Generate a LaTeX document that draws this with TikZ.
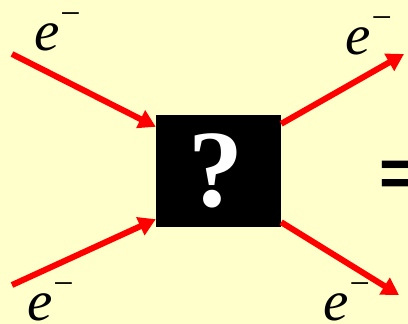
\documentclass[tikz,border=0pt]{standalone}
\usepackage{fontspec}
\setmainfont{Liberation Serif}
\setsansfont{Liberation Sans}
\usetikzlibrary{arrows.meta}

\definecolor{paleyellow}{HTML}{FFFFCC}
\newcommand{\electron}{\textit{e}\kern1pt\raisebox{25pt}{\fontsize{36}{36}\selectfont −}}

\begin{document}
\begin{tikzpicture}[
    x=1pt, y=-1pt,
    eline/.style={draw=red, line width=6pt, -{Triangle[length=17pt,width=19pt]}},
    elabel/.style={anchor=base west, inner sep=0pt, font=\fontsize{57}{57}\selectfont},
    blackbox/.style={fill=black, minimum width=125pt, minimum height=112pt,
                     inner sep=0pt, text=white, font=\fontsize{110}{110}\selectfont\bfseries}
]
\fill[paleyellow] (0,0) rectangle (408,324);
\useasboundingbox (0,0) rectangle (408,324);

\node[blackbox] (q) at (218.5,171) {\raisebox{-4pt}{?}\kern6pt};

% incoming and outgoing electrons
\coordinate (in1) at (12,54);
\coordinate (in2) at (12,285);
\coordinate (out1) at (404,54);
\coordinate (out2) at (399,295);

\draw[eline] (in1) -- ([yshift=-12pt]q.north west);
\draw[eline] (in2) -- ([yshift=8pt]q.south west);
\draw[eline] ([yshift=-9pt]q.north east) -- (out1);
\draw[eline] ([yshift=5pt]q.south east) -- (out2);

\node[elabel] (e1) at (34,50) {\electron};
\node[elabel] (e2) at (27,320) {\electron};
\node[elabel] (e3) at (345,55) {\electron};
\node[elabel] (e4) at (323,320) {\electron};

\node[anchor=base west, inner sep=0pt, font=\fontsize{68}{68}\selectfont\sffamily\bfseries] (eq) at (379,196) {=};
\end{tikzpicture}
\end{document}
